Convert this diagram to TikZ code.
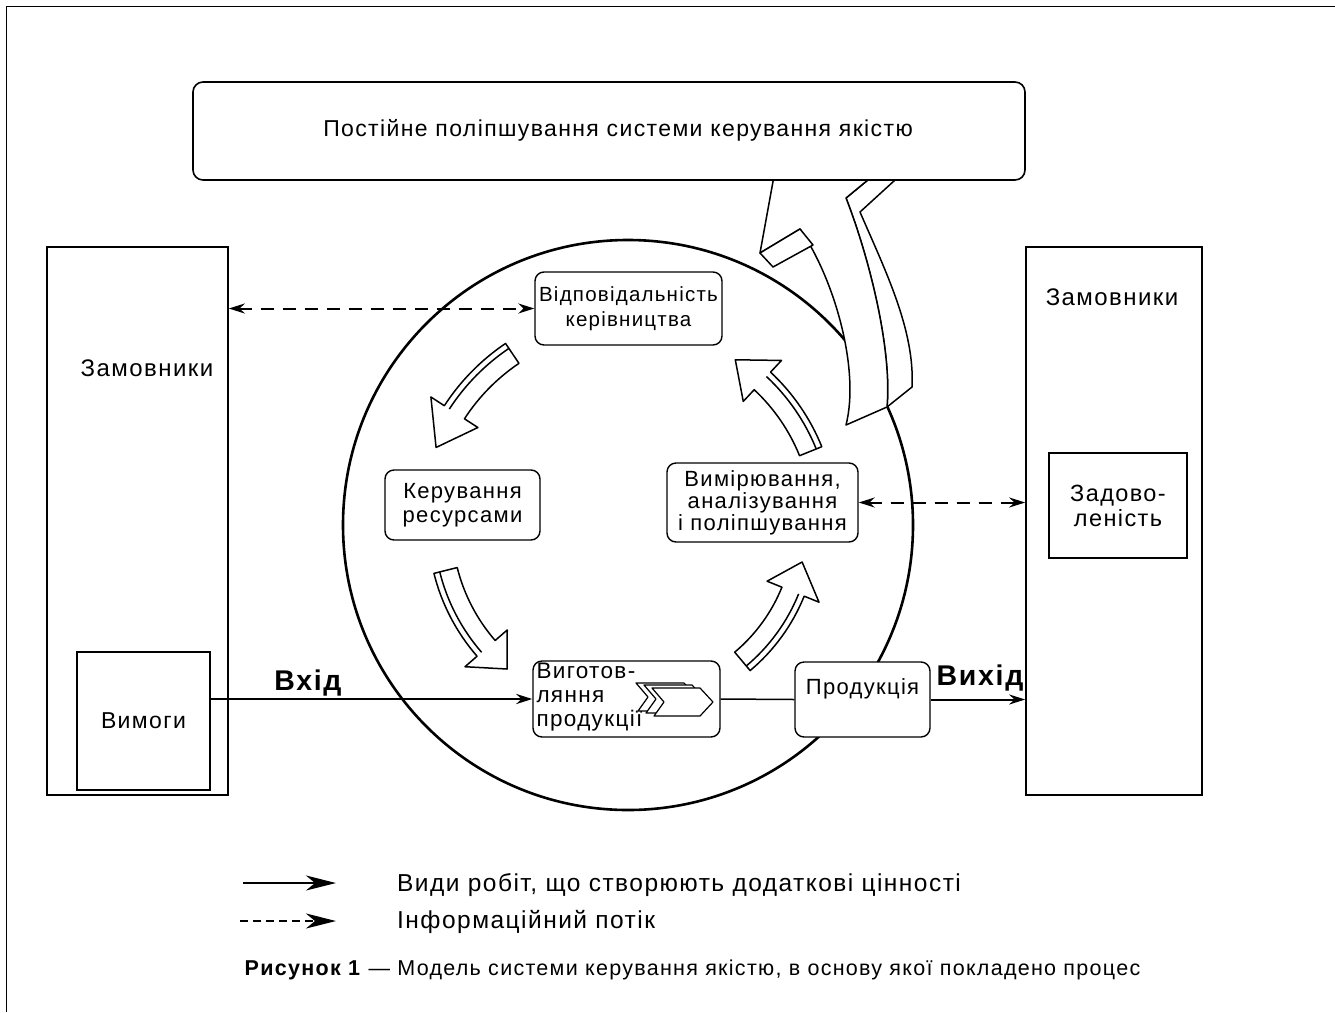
\documentclass[tikz,border=0pt]{standalone}
\usepackage{fontspec}
\setmainfont{Liberation Sans}[LetterSpace=6]
\usetikzlibrary{arrows.meta}
\newcommand{\cycarrow}[6]{%
  \draw[smallarr] ({#2}:{#1+#5}) arc[start angle=#2, end angle=#3, radius={#1+#5}]
    -- ({#3}:{#1+#6}) -- ({#4}:{#1}) -- ({#3}:{#1-#6}) -- ({#3}:{#1-#5})
    arc[start angle=#3, end angle=#2, radius={#1-#5}] -- cycle;
  \draw[smallarr] ({#2}:{#1+#5-6}) arc[start angle=#2, end angle=#3, radius={#1+#5-6}];
}
\begin{document}
\begin{tikzpicture}[x=1pt,y=-1pt,
  box/.style={draw,line width=1.6pt,fill=white,inner sep=0pt},
  rbox/.style={draw,line width=1.4pt,fill=white,rounded corners=9pt,inner sep=0pt,
     font=\fontsize{22}{24}\selectfont,align=center},
  txt/.style={font=\fontsize{24}{26}\selectfont,align=center,inner sep=0pt},
  bold/.style={font=\fontsize{28.5}{30}\selectfont\bfseries,inner sep=0pt},
  smallarr/.style={draw,line width=1.5pt,fill=white,line join=round},
  bigarr/.style={draw,line width=1.5pt,fill=white,line join=round},
  info/.style={line width=2pt,dash pattern=on 13pt off 9pt},
  tip/.style={-{Stealth[length=16pt,width=10pt]}},
  lgtip/.style={-{Stealth[length=30pt,width=15pt,inset=9pt]}}]
\useasboundingbox (0,0) rectangle (1335,1012);
\draw[line width=1pt] (6,1012) -- (6,6) -- (1335,6);

% circle
\node[circle,draw,line width=2.6pt,minimum size=570pt,inner sep=0pt] (cyc) at (628,525) {};

% big arrow
\draw[bigarr] (846,198) -- (880,170) -- (906,170) -- (860,212)
  .. controls (885,270) and (915,330) .. (912,387) -- (887,407)
  .. controls (892,350) and (870,260) .. (846,198) -- cycle;
\draw[bigarr] (800,229) -- (760,253) -- (776,165) -- (880,170) -- (846,198)
  .. controls (870,260) and (892,350) .. (887,407) -- (846,425)
  .. controls (860,370) and (835,280) .. (800,229) -- cycle;
\draw[bigarr] (760,253) -- (773,267) -- (813,245) -- (800,229) -- cycle;

% top box
\node[box,rounded corners=10pt,minimum width=832pt,minimum height=98pt] (top) at (609,131) {};
\node[txt,font=\fontsize{23}{25}\selectfont] (toptxt) at (618,130) {Постійне поліпшування системи керування якістю};

% side boxes
\node[box,minimum width=181pt,minimum height=548pt] (lc) at (137.5,521) {};
\node[txt] (lctxt) at (147,368) {Замовники};
\node[box,minimum width=133pt,minimum height=138pt,font=\fontsize{23}{25}\selectfont] (req) at (143.5,721) {Вимоги};
\node[box,minimum width=176pt,minimum height=548pt] (rc) at (1114,521) {};
\node[txt] (rctxt) at (1112,297) {Замовники};
\node[box,minimum width=138pt,minimum height=105pt,font=\fontsize{23.5}{25}\selectfont,align=center] (sat) at (1118,505.5) {Задово-\\ленiсть};

% cycle arrows
\begin{scope}[shift={(628,525)},y=1pt]
  \cycarrow{207}{124}{147}{158}{12}{28}
  \cycarrow{188}{194}{221}{230}{12}{28}
  \cycarrow{178}{-50}{-22}{-12}{12}{28}
  \cycarrow{197}{22}{47}{57}{12}{28}
\end{scope}

% inner nodes
\node[rbox,minimum width=187pt,minimum height=73pt,font=\fontsize{20.5}{25}\selectfont] (resp) at (628.5,308.5) {Відповідальність\\керівництва};
\node[rbox,minimum width=155pt,minimum height=70pt] (res) at (462.5,505) {Керування\\ресурсами};
\node[rbox,minimum width=191pt,minimum height=79pt,font=\fontsize{22}{22}\selectfont] (meas) at (762.5,502.5) {Вимірювання,\\аналізування\\і поліпшування};
\node[rbox,minimum width=187pt,minimum height=76pt] (prod) at (626.5,699) {};
\node[txt,anchor=west,align=left,font=\fontsize{22.5}{24}\selectfont] (prodtxt) at ([yshift=2pt]prod.west) {\hspace*{4pt}Виготов-\\\hspace*{4pt}ляння\\\hspace*{4pt}продукції};
\node[rbox,minimum width=135pt,minimum height=75pt] (out) at (862.5,699.5) {Продукція\\[2pt]};

% chevrons
\foreach \dx/\dy in {-16/-5,-8/-3,0/0}{
  \draw[line width=1.2pt,fill=white,line join=round,shift={(\dx,\dy)}]
    (652,688) -- (700,688) -- (713,702) -- (700,716) -- (654,716) -- (664,702) -- cycle;
}

% connectors
\draw[info,{Stealth[length=16pt,width=10pt]}-{Stealth[length=16pt,width=10pt]}] (lc.east |- resp.west) -- (resp.west);
\draw[info,{Stealth[length=16pt,width=10pt]}-{Stealth[length=16pt,width=10pt]}] (meas.east) -- (rc.west |- meas.east);
\draw[line width=2.8pt,tip] (req.east |- prod.west) -- (prod.west);
\draw[line width=1.5pt] (prod.east) -- (out.west);
\draw[line width=2pt,tip] (out.east) -- (rc.west |- out.east);
\node[bold] (intxt) at (308,683) {Вхід};
\node[bold] (outtxt) at (980,678) {Вихід};

% legend
\coordinate (l1a) at (243,883); \coordinate (l1b) at (336,883);
\coordinate (l2a) at (240,921); \coordinate (l2b) at (336,921);
\draw[line width=2pt,lgtip] (l1a) -- (l1b);
\draw[line width=2pt,dash pattern=on 8pt off 5pt,lgtip] (l2a) -- (l2b);
\node[txt,anchor=west,font=\fontsize{24.5}{26}\selectfont] (lg1) at (397,885) {Види робіт, що створюють додаткові цінності};
\node[txt,anchor=west,font=\fontsize{24.5}{26}\selectfont] (lg2) at (397,922) {Інформаційний потік};
\node[txt,font=\fontsize{21.5}{24}\selectfont] (cap) at (692.5,970) {\textbf{Рисунок 1} — Модель системи керування якістю, в основу якої покладено процес};
\end{tikzpicture}
\end{document}
